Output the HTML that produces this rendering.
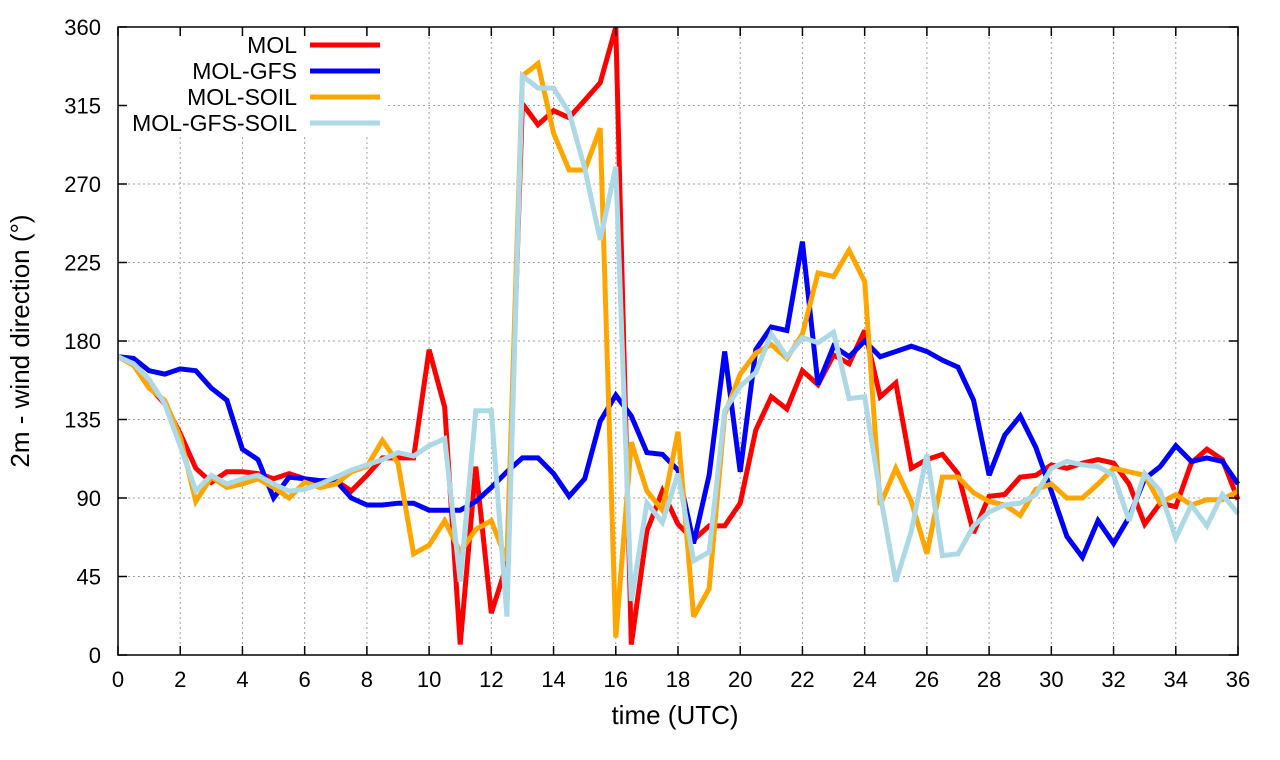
<!DOCTYPE html>
<html><head><meta charset="utf-8"><style>
body{margin:0;background:#fff;}
svg{display:block;font-family:"Liberation Sans",sans-serif;}
</style></head><body>
<svg id="chart" width="1280" height="760">
<g id="grid"></g>
<g id="series"></g>
<rect x="118" y="27" width="1120" height="628" fill="none" stroke="#000" stroke-width="1.5"/>
<g id="ticks"></g>
<text x="675" y="724" font-size="26" text-anchor="middle">time (UTC)</text>
<text transform="translate(29,341) rotate(-90)" font-size="26" text-anchor="middle">2m - wind direction (°)</text>
<g id="legend"></g>
</svg>
<script>
const times = [];
for (let i = 0; i <= 72; i++) times.push(i / 2);
const xTicks = [0,2,4,6,8,10,12,14,16,18,20,22,24,26,28,30,32,34,36];
const yTicks = [0,45,90,135,180,225,270,315,360];
const seriesNames = ["MOL","MOL-GFS","MOL-SOIL","MOL-GFS-SOIL"];
const seriesColors = ["#ff0000","#0000ff","#ffa500","#add8e6"];
const mol = [171,168,154,144,127,107,99,105,105,104,101,104,101,99,100,94,103,113,113,113,175,142,6,108,24,52,316,304,312,308,318,328,360,6,71,94,75,66,74,74,87,129,148,141,163,155,172,167,186,148,156,107,112,115,104,70,91,92,102,103,109,107,110,112,110,98,75,87,85,110,118,112,89];
const molGfs = [171,170,163,161,164,163,153,146,118,112,90,102,101,100,100,90,86,86,87,87,83,83,83,88,96,105,113,113,104,91,101,134,149,137,116,115,106,64,103,174,105,175,188,186,237,155,177,171,180,171,174,177,174,169,165,146,103,126,137,119,94,68,56,77,64,79,101,108,120,111,113,111,98];
const molSoil = [171,166,153,146,125,88,102,96,98,101,96,90,99,96,98,105,108,123,110,58,63,77,59,72,77,54,332,339,299,278,278,302,10,122,94,83,128,22,38,138,161,173,178,170,184,219,217,232,214,86,107,88,58,102,102,93,88,86,80,95,98,90,90,98,107,105,103,87,92,86,89,89,94];
const molGfsSoil = [171,167,158,144,120,94,103,98,101,103,98,94,95,98,102,106,109,112,116,114,120,124,42,140,140,22,332,325,325,311,279,238,280,31,87,76,104,54,59,140,154,162,184,171,182,179,185,147,148,92,42,71,115,57,58,74,82,86,87,92,107,111,109,108,103,77,104,94,67,86,74,92,81];
const seriesData = [mol, molGfs, molSoil, molGfsSoil];

const L=118,R=1238,T=27,B=655;
const xs = t => L + (t/36)*(R-L);
const ys = v => B - (v/360)*(B-T);
const NS="http://www.w3.org/2000/svg";
function mk(tag, attrs, parent){const e=document.createElementNS(NS,tag);for(const k in attrs)e.setAttribute(k,attrs[k]);parent.appendChild(e);return e;}
const grid=document.getElementById('grid'), ticks=document.getElementById('ticks'), ser=document.getElementById('series'), leg=document.getElementById('legend');
xTicks.forEach(t=>{
  const x=xs(t);
  if(t>0&&t<36){const g=mk('line',{x1:x,x2:x,y1:T,y2:B,stroke:'#a0a0a0','stroke-width':1,'stroke-dasharray':'2,3'},grid);
  
  }
  mk('line',{x1:x,x2:x,y1:B,y2:B-9,stroke:'#000','stroke-width':1.5},ticks);
  mk('line',{x1:x,x2:x,y1:T,y2:T+9,stroke:'#000','stroke-width':1.5},ticks);
  const tx=mk('text',{x:x,y:687,'font-size':22,'text-anchor':'middle'},ticks);tx.textContent=t;
  
  
});
yTicks.forEach(v=>{
  const y=ys(v);
  if(v>0&&v<360){const g=mk('line',{x1:L,x2:R,y1:y,y2:y,stroke:'#a0a0a0','stroke-width':1,'stroke-dasharray':'2,3'},grid);
  
  }
  mk('line',{x1:L,x2:L+9,y1:y,y2:y,stroke:'#000','stroke-width':1.5},ticks);
  mk('line',{x1:R,x2:R-9,y1:y,y2:y,stroke:'#000','stroke-width':1.5},ticks);
  const tx=mk('text',{x:101,y:y+8,'font-size':22,'text-anchor':'end'},ticks);tx.textContent=v;
  
  
});
const lb=mk('rect',{x:120,y:29,width:265,height:108,fill:'#fff'},grid);


seriesData.forEach((d,i)=>{
  const pts=d.map((v,j)=>xs(times[j]).toFixed(1)+','+ys(v).toFixed(1)).join(' ');
  const p=mk('polyline',{points:pts,fill:'none',stroke:seriesColors[i],'stroke-width':5,'stroke-linejoin':'miter','stroke-miterlimit':3},ser);
  
  
  const ly=45+i*26;
  const lt=mk('text',{x:297,y:ly+8,'font-size':23,'text-anchor':'end'},leg);lt.textContent=seriesNames[i];
  
  
  const ll=mk('line',{x1:310,x2:380,y1:ly,y2:ly,stroke:seriesColors[i],'stroke-width':5},leg);
  
  
});
</script>
</body></html>
